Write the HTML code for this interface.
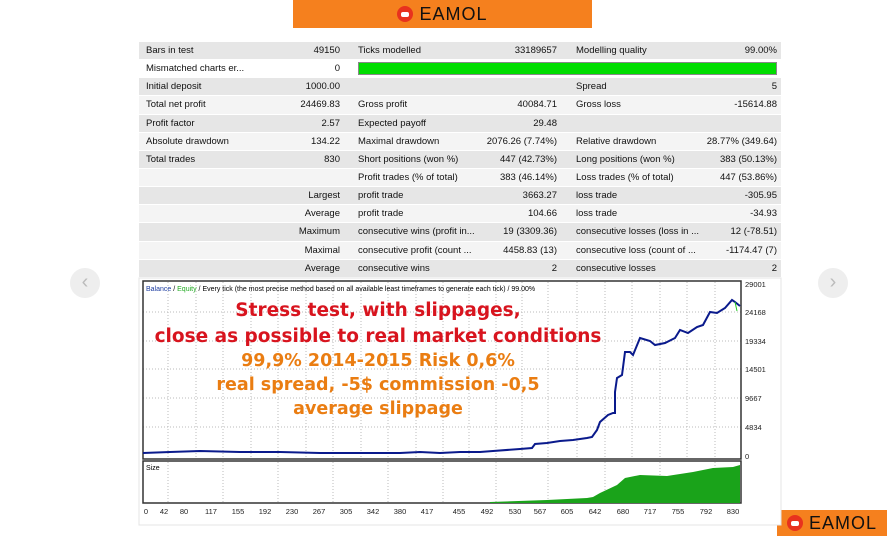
<!DOCTYPE html>
<html><head><meta charset="utf-8"><style>
body{margin:0;width:887px;height:536px;background:#fff;position:relative;overflow:hidden;font-family:"Liberation Sans",sans-serif}
.t{position:absolute;left:139px;top:42px;width:642px}
.r{position:relative;height:18.15px;box-sizing:border-box;font-size:9.5px;color:#111;line-height:17px;border-bottom:1px solid #fff}
.r.g{background:#e6e6e6}.r.w{background:#f4f4f4}
.r span{position:absolute;white-space:nowrap}
.a{left:7px}.b{right:441px}.c{left:219px}.d{right:224px}.e{left:437px}.f{right:4px}
.logo{position:absolute;background:#f5801e;display:flex;align-items:center;justify-content:center;color:#111;font-weight:normal;letter-spacing:1px}
.ic{width:16px;height:16px;border-radius:50%;background:#e8321e;margin-right:6px;position:relative}
.ic:after{content:"";position:absolute;left:4px;top:6px;width:8px;height:5px;background:#fff;border-radius:2px}
.nav{position:absolute;width:30px;height:30px;border-radius:50%;background:#eee;color:#bbb;font-size:20px;text-align:center;line-height:28px}
.bt{position:absolute;left:148px;width:460px;text-align:center;font-weight:bold;font-family:"DejaVu Sans",sans-serif}
</style></head><body>
<div class="logo" style="left:293px;top:0;width:299px;height:28px;font-size:18px"><div class="ic"></div>EAMOL</div>
<div class="logo" style="left:777px;top:510px;width:110px;height:26px;font-size:18px"><div class="ic"></div>EAMOL</div>
<div class="nav" style="left:70px;top:268px">‹</div>
<div class="nav" style="left:818px;top:268px">›</div>
<div class="t">
<div class="r g"><span class="a">Bars in test</span><span class="b">49150</span><span class="c">Ticks modelled</span><span class="d">33189657</span><span class="e">Modelling quality</span><span class="f">99.00%</span></div>
<div class="r" style="background:#fff"><span class="a">Mismatched charts er...</span><span class="b">0</span><span style="left:219px;top:2px;width:419px;height:13px;background:#0d0;border:1px solid #888;box-sizing:border-box"></span></div>
<div class="r g"><span class="a">Initial deposit</span><span class="b">1000.00</span><span class="e">Spread</span><span class="f">5</span></div>
<div class="r w"><span class="a">Total net profit</span><span class="b">24469.83</span><span class="c">Gross profit</span><span class="d">40084.71</span><span class="e">Gross loss</span><span class="f">-15614.88</span></div>
<div class="r g"><span class="a">Profit factor</span><span class="b">2.57</span><span class="c">Expected payoff</span><span class="d">29.48</span></div>
<div class="r w"><span class="a">Absolute drawdown</span><span class="b">134.22</span><span class="c">Maximal drawdown</span><span class="d">2076.26 (7.74%)</span><span class="e">Relative drawdown</span><span class="f">28.77% (349.64)</span></div>
<div class="r g"><span class="a">Total trades</span><span class="b">830</span><span class="c">Short positions (won %)</span><span class="d">447 (42.73%)</span><span class="e">Long positions (won %)</span><span class="f">383 (50.13%)</span></div>
<div class="r w"><span class="c">Profit trades (% of total)</span><span class="d">383 (46.14%)</span><span class="e">Loss trades (% of total)</span><span class="f">447 (53.86%)</span></div>
<div class="r g"><span class="b">Largest</span><span class="c">profit trade</span><span class="d">3663.27</span><span class="e">loss trade</span><span class="f">-305.95</span></div>
<div class="r w"><span class="b">Average</span><span class="c">profit trade</span><span class="d">104.66</span><span class="e">loss trade</span><span class="f">-34.93</span></div>
<div class="r g"><span class="b">Maximum</span><span class="c">consecutive wins (profit in...</span><span class="d">19 (3309.36)</span><span class="e">consecutive losses (loss in ...</span><span class="f">12 (-78.51)</span></div>
<div class="r w"><span class="b">Maximal</span><span class="c">consecutive profit (count ...</span><span class="d">4458.83 (13)</span><span class="e">consecutive loss (count of ...</span><span class="f">-1174.47 (7)</span></div>
<div class="r g"><span class="b">Average</span><span class="c">consecutive wins</span><span class="d">2</span><span class="e">consecutive losses</span><span class="f">2</span></div>
</div>
<svg style="position:absolute;left:0;top:0" width="887" height="536" font-family="Liberation Sans" font-size="8">
<rect x="139" y="278" width="642" height="247" fill="#fff" stroke="#e4e4e4"/>
<g stroke="#bbb" stroke-dasharray="1,2">
<line x1="168" y1="282" x2="168" y2="458"/><line x1="196" y1="282" x2="196" y2="458"/><line x1="223" y1="282" x2="223" y2="458"/><line x1="251" y1="282" x2="251" y2="458"/><line x1="278" y1="282" x2="278" y2="458"/><line x1="306" y1="282" x2="306" y2="458"/><line x1="333" y1="282" x2="333" y2="458"/><line x1="361" y1="282" x2="361" y2="458"/><line x1="388" y1="282" x2="388" y2="458"/><line x1="416" y1="282" x2="416" y2="458"/><line x1="443" y1="282" x2="443" y2="458"/><line x1="469" y1="282" x2="469" y2="458"/><line x1="496" y1="282" x2="496" y2="458"/><line x1="522" y1="282" x2="522" y2="458"/><line x1="548" y1="282" x2="548" y2="458"/><line x1="577" y1="282" x2="577" y2="458"/><line x1="605" y1="282" x2="605" y2="458"/><line x1="632" y1="282" x2="632" y2="458"/><line x1="660" y1="282" x2="660" y2="458"/><line x1="687" y1="282" x2="687" y2="458"/><line x1="715" y1="282" x2="715" y2="458"/>
<line x1="143" y1="312" x2="741" y2="312"/><line x1="143" y1="341" x2="741" y2="341"/><line x1="143" y1="369" x2="741" y2="369"/><line x1="143" y1="398" x2="741" y2="398"/><line x1="143" y1="427" x2="741" y2="427"/>
<line x1="168" y1="462" x2="168" y2="503"/><line x1="223" y1="462" x2="223" y2="503"/><line x1="278" y1="462" x2="278" y2="503"/><line x1="333" y1="462" x2="333" y2="503"/><line x1="388" y1="462" x2="388" y2="503"/><line x1="443" y1="462" x2="443" y2="503"/><line x1="496" y1="462" x2="496" y2="503"/><line x1="548" y1="462" x2="548" y2="503"/><line x1="605" y1="462" x2="605" y2="503"/><line x1="660" y1="462" x2="660" y2="503"/><line x1="715" y1="462" x2="715" y2="503"/>
</g>
<rect x="143" y="281" width="598" height="178" fill="none" stroke="#333" stroke-width="1.5"/>
<rect x="143" y="461" width="598" height="42" fill="none" stroke="#333" stroke-width="1.5"/>
<polygon fill="#1aa31a" points="490,503 490,502 547,500 587,498 593,497 600,493 617,485 625,478 640,475 667,476 693,472 713,468 733,467 740,465 740,503"/>
<polyline fill="none" stroke="#0a1a8c" stroke-width="2" points="143,453 170,452 200,451 240,452 280,452 320,453 360,453 400,453 420,452 440,453 460,452 480,452 493,451 520,449 532,448 535,444 547,443 560,441 573,440 587,438 592,437 597,430 600,422 608,415 613,413 615,413 615,392 617,378 622,375 625,352 630,352 633,355 640,338 650,341 655,345 665,343 675,338 680,330 688,333 697,327 703,325 710,312 717,313 725,308 732,300 735,302 740,306"/>
<line x1="735" y1="302" x2="737" y2="311" stroke="#2c2" stroke-width="1"/>
<text x="146" y="291" font-size="7"><tspan fill="#1c3ca0">Balance</tspan> / <tspan fill="#2a2">Equity</tspan> / Every tick (the most precise method based on all available least timeframes to generate each tick) / 99.00%</text>
<text x="146" y="470" font-size="7">Size</text>
<g font-size="7.5" fill="#222">
<text x="745" y="287">29001</text><text x="745" y="315">24168</text><text x="745" y="344">19334</text><text x="745" y="372">14501</text><text x="745" y="401">9667</text><text x="745" y="430">4834</text><text x="745" y="459">0</text>
</g>
<g font-size="7.5" fill="#222" text-anchor="middle">
<text x="146" y="514">0</text><text x="164" y="514">42</text><text x="184" y="514">80</text><text x="211" y="514">117</text><text x="238" y="514">155</text><text x="265" y="514">192</text><text x="292" y="514">230</text><text x="319" y="514">267</text><text x="346" y="514">305</text><text x="373" y="514">342</text><text x="400" y="514">380</text><text x="427" y="514">417</text><text x="459" y="514">455</text><text x="487" y="514">492</text><text x="515" y="514">530</text><text x="540" y="514">567</text><text x="567" y="514">605</text><text x="595" y="514">642</text><text x="623" y="514">680</text><text x="650" y="514">717</text><text x="678" y="514">755</text><text x="706" y="514">792</text><text x="733" y="514">830</text>
</g>
</svg>
<div class="bt" style="top:300px;font-size:18.5px;color:#d8141e">Stress test, with slippages,</div>
<div class="bt" style="top:326px;font-size:18.5px;color:#d8141e">close as possible to real market conditions</div>
<div class="bt" style="top:351px;font-size:17.5px;color:#ea7d12">99,9% 2014-2015 Risk 0,6%</div>
<div class="bt" style="top:375px;font-size:17.5px;color:#ea7d12">real spread, -5$ commission -0,5</div>
<div class="bt" style="top:399px;font-size:17.5px;color:#ea7d12">average slippage</div>
</body></html>
